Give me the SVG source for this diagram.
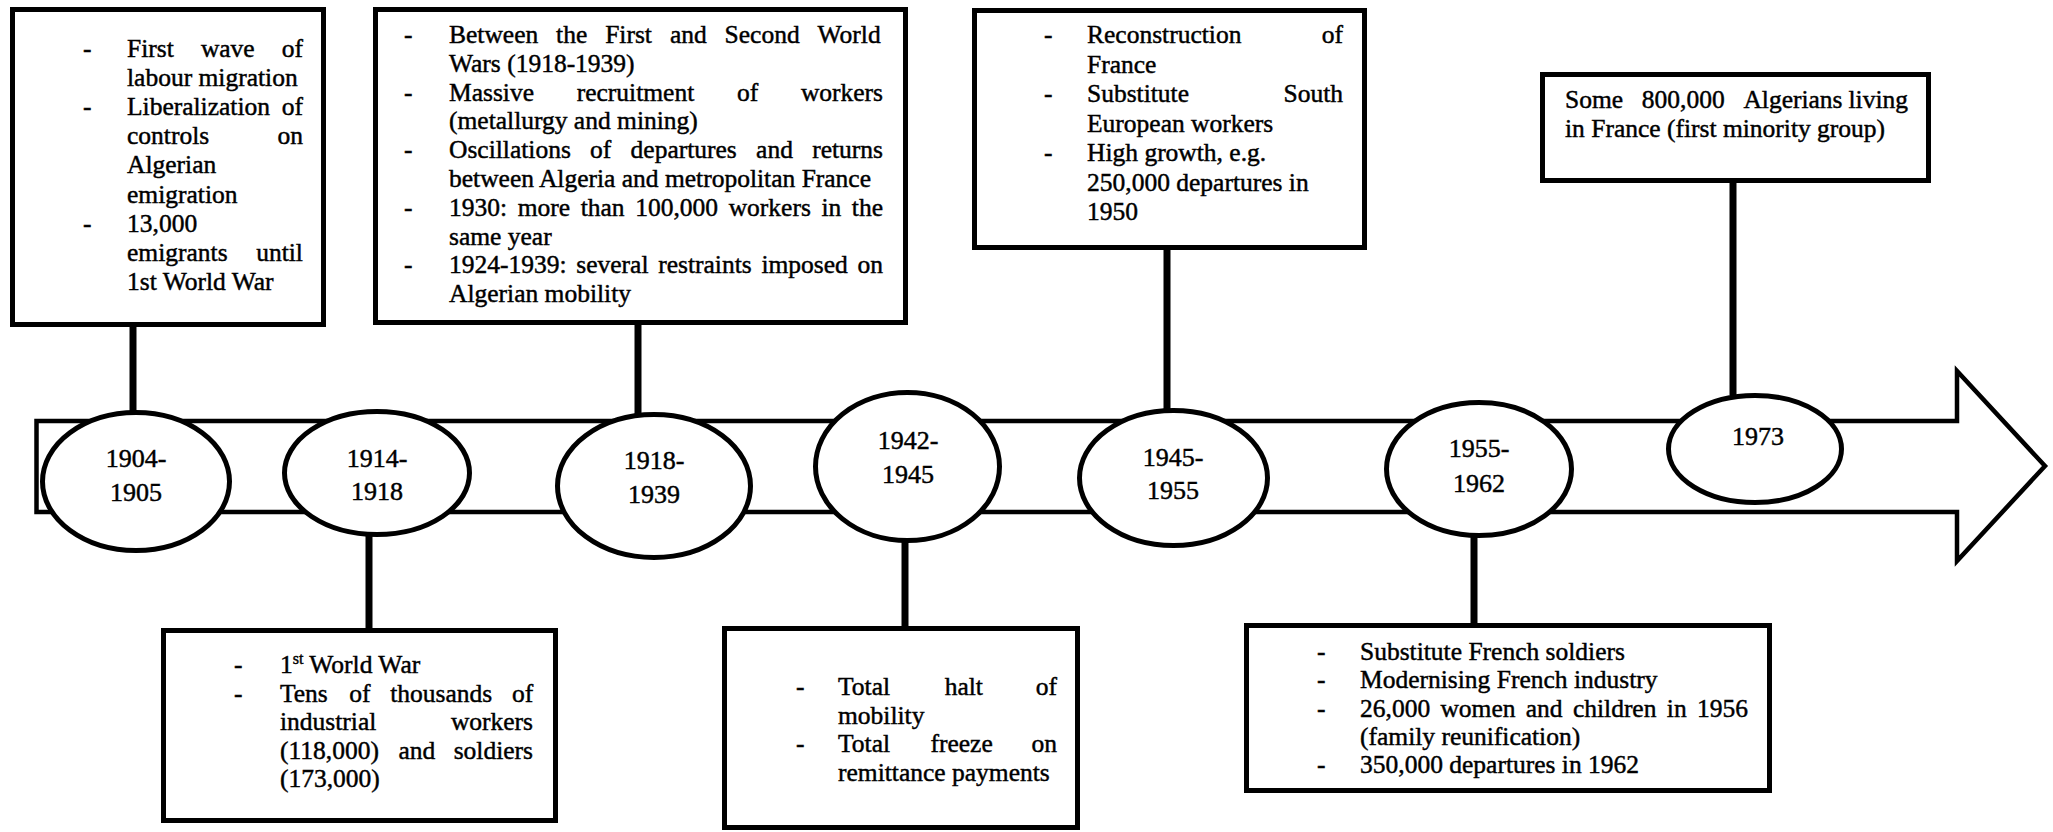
<svg xmlns="http://www.w3.org/2000/svg" width="2053" height="832" viewBox="0 0 2053 832">
<style>
.box{fill:#fff;stroke:#000;stroke-width:5}
.ell{fill:#fff;stroke:#000;stroke-width:5}
.conn{stroke:#000;stroke-width:7;fill:none}
.band{fill:#fff;stroke:#000;stroke-width:4.5;stroke-linejoin:miter}
.t{font-family:"Liberation Serif","Times New Roman",serif;font-size:25.5px;fill:#000;stroke:#000;stroke-width:0.45px}
.yr{font-family:"Liberation Serif","Times New Roman",serif;font-size:26px;fill:#000;stroke:#000;stroke-width:0.45px;text-anchor:middle}
</style>
<rect width="2053" height="832" fill="#fff"/>
<g id="timeline">
<polygon class="band" points="36.5,421 1957,421 1957,371 2045,466 1957,561 1957,512 36.5,512"/>
</g>
<g id="connectors">
<line class="conn" x1="133" y1="326" x2="133" y2="412"/>
<line class="conn" x1="638" y1="324" x2="638" y2="414"/>
<line class="conn" x1="1167" y1="248" x2="1167" y2="410"/>
<line class="conn" x1="1733" y1="181" x2="1733" y2="395"/>
<line class="conn" x1="369" y1="535" x2="369" y2="630"/>
<line class="conn" x1="905" y1="541" x2="905" y2="628"/>
<line class="conn" x1="1474" y1="536" x2="1474" y2="625"/>
</g>
<g id="e1904">
<ellipse class="ell" cx="136" cy="481.5" rx="93.5" ry="69"/>
<text class="yr" x="136" y="467">1904-</text>
<text class="yr" x="136" y="501">1905</text>
</g>
<g id="e1914">
<ellipse class="ell" cx="377" cy="473" rx="92.5" ry="61.5"/>
<text class="yr" x="377" y="467">1914-</text>
<text class="yr" x="377" y="500">1918</text>
</g>
<g id="e1918">
<ellipse class="ell" cx="654" cy="486" rx="96.5" ry="71.5"/>
<text class="yr" x="654" y="469">1918-</text>
<text class="yr" x="654" y="503">1939</text>
</g>
<g id="e1942">
<ellipse class="ell" cx="907.5" cy="466.5" rx="92" ry="74"/>
<text class="yr" x="908" y="449">1942-</text>
<text class="yr" x="908" y="483">1945</text>
</g>
<g id="e1945">
<ellipse class="ell" cx="1173.5" cy="478" rx="94" ry="67.5"/>
<text class="yr" x="1173" y="466">1945-</text>
<text class="yr" x="1173" y="499">1955</text>
</g>
<g id="e1955">
<ellipse class="ell" cx="1479" cy="469" rx="92.5" ry="66.5"/>
<text class="yr" x="1479" y="457">1955-</text>
<text class="yr" x="1479" y="492">1962</text>
</g>
<g id="e1973">
<ellipse class="ell" cx="1755" cy="449" rx="86.5" ry="53.5"/>
<text class="yr" x="1758" y="445">1973</text>
</g>
<g id="box-1904">
<rect class="box" x="12.5" y="9.5" width="311" height="315"/>
<text class="t" x="83" y="57">-</text>
<text class="t" x="83" y="115.2">-</text>
<text class="t" x="83" y="231.6">-</text>
<text class="t" y="57"><tspan x="127">First</tspan><tspan x="200.9">wave</tspan><tspan x="281.8">of</tspan></text>
<text class="t" x="127" y="86.1">labour migration</text>
<text class="t" y="115.2"><tspan x="127">Liberalization</tspan><tspan x="281.8">of</tspan></text>
<text class="t" y="144.3"><tspan x="127">controls</tspan><tspan x="277.5">on</tspan></text>
<text class="t" x="127" y="173.4">Algerian</text>
<text class="t" x="127" y="202.5">emigration</text>
<text class="t" x="127" y="231.6">13,000</text>
<text class="t" y="260.7"><tspan x="127">emigrants</tspan><tspan x="256.2">until</tspan></text>
<text class="t" x="127" y="289.8">1st World War</text>
</g>
<g id="box-1918">
<rect class="box" x="375.5" y="9.5" width="530" height="313"/>
<text class="t" x="404" y="43">-</text>
<text class="t" x="404" y="100.6">-</text>
<text class="t" x="404" y="158.2">-</text>
<text class="t" x="404" y="215.8">-</text>
<text class="t" x="404" y="273.4">-</text>
<text class="t" y="43"><tspan x="449">Between</tspan><tspan x="556.1">the</tspan><tspan x="605.2">First</tspan><tspan x="669.9">and</tspan><tspan x="724.6">Second</tspan><tspan x="817.6">World</tspan></text>
<text class="t" x="449" y="71.8">Wars (1918-1939)</text>
<text class="t" y="100.6"><tspan x="449">Massive</tspan><tspan x="576.7">recruitment</tspan><tspan x="737">of</tspan><tspan x="800.9">workers</tspan></text>
<text class="t" x="449" y="129.4">(metallurgy and mining)</text>
<text class="t" y="158.2"><tspan x="449">Oscillations</tspan><tspan x="590.1">of</tspan><tspan x="630.6">departures</tspan><tspan x="756.1">and</tspan><tspan x="812.2">returns</tspan></text>
<text class="t" x="449" y="187">between Algeria and metropolitan France</text>
<text class="t" y="215.8"><tspan x="449">1930:</tspan><tspan x="517.7">more</tspan><tspan x="580.7">than</tspan><tspan x="635.2">100,000</tspan><tspan x="728.7">workers</tspan><tspan x="821.4">in</tspan><tspan x="851.8">the</tspan></text>
<text class="t" x="449" y="244.6">same year</text>
<text class="t" y="273.4"><tspan x="449">1924-1939:</tspan><tspan x="576.3">several</tspan><tspan x="658.2">restraints</tspan><tspan x="761.4">imposed</tspan><tspan x="857.5">on</tspan></text>
<text class="t" x="449" y="302.2">Algerian mobility</text>
</g>
<g id="box-1945">
<rect class="box" x="974.5" y="10.5" width="390" height="237"/>
<text class="t" x="1044" y="43">-</text>
<text class="t" x="1044" y="102">-</text>
<text class="t" x="1044" y="161">-</text>
<text class="t" y="43"><tspan x="1087">Reconstruction</tspan><tspan x="1321.8">of</tspan></text>
<text class="t" x="1087" y="72.5">France</text>
<text class="t" y="102"><tspan x="1087">Substitute</tspan><tspan x="1283.5">South</tspan></text>
<text class="t" x="1087" y="131.5">European workers</text>
<text class="t" x="1087" y="161">High growth, e.g.</text>
<text class="t" x="1087" y="190.5">250,000 departures  in</text>
<text class="t" x="1087" y="220">1950</text>
</g>
<g id="box-1973">
<rect class="box" x="1542.5" y="74.5" width="386" height="106"/>
<text class="t" y="108"><tspan x="1565">Some</tspan><tspan x="1641.8">800,000</tspan><tspan x="1743.4">Algerians</tspan><tspan x="1848.5">living</tspan></text>
<text class="t" x="1565" y="137">in France (first minority group)</text>
</g>
<g id="box-1914">
<rect class="box" x="163.5" y="630.5" width="392" height="190"/>
<text class="t" x="234" y="673">-</text>
<text class="t" x="234" y="701.5">-</text>
<text class="t" x="280" y="673">1<tspan font-size="16" dy="-9">st</tspan><tspan dy="9"> World War</tspan></text>
<text class="t" y="701.5"><tspan x="280">Tens</tspan><tspan x="349.3">of</tspan><tspan x="390.2">thousands</tspan><tspan x="511.9">of</tspan></text>
<text class="t" y="730"><tspan x="280">industrial</tspan><tspan x="450.9">workers</tspan></text>
<text class="t" y="758.5"><tspan x="280">(118,000)</tspan><tspan x="398.4">and</tspan><tspan x="453.7">soldiers</tspan></text>
<text class="t" x="280" y="787">(173,000)</text>
</g>
<g id="box-1942">
<rect class="box" x="724.5" y="628.5" width="353" height="199"/>
<text class="t" x="796" y="695">-</text>
<text class="t" x="796" y="752">-</text>
<text class="t" y="695"><tspan x="838">Total</tspan><tspan x="944.7">halt</tspan><tspan x="1035.8">of</tspan></text>
<text class="t" x="838" y="723.5">mobility</text>
<text class="t" y="752"><tspan x="838">Total</tspan><tspan x="930.5">freeze</tspan><tspan x="1031.5">on</tspan></text>
<text class="t" x="838" y="780.5">remittance payments</text>
</g>
<g id="box-1955">
<rect class="box" x="1246.5" y="625.5" width="523" height="165"/>
<text class="t" x="1317" y="660">-</text>
<text class="t" x="1317" y="688.3">-</text>
<text class="t" x="1317" y="716.6">-</text>
<text class="t" x="1317" y="773.2">-</text>
<text class="t" x="1360" y="660">Substitute French soldiers</text>
<text class="t" x="1360" y="688.3">Modernising French industry</text>
<text class="t" y="716.6"><tspan x="1360">26,000</tspan><tspan x="1440.4">women</tspan><tspan x="1525.8">and</tspan><tspan x="1572.9">children</tspan><tspan x="1666.8">in</tspan><tspan x="1696.9">1956</tspan></text>
<text class="t" x="1360" y="744.9">(family reunification)</text>
<text class="t" x="1360" y="773.2">350,000 departures in 1962</text>
</g>
</svg>
